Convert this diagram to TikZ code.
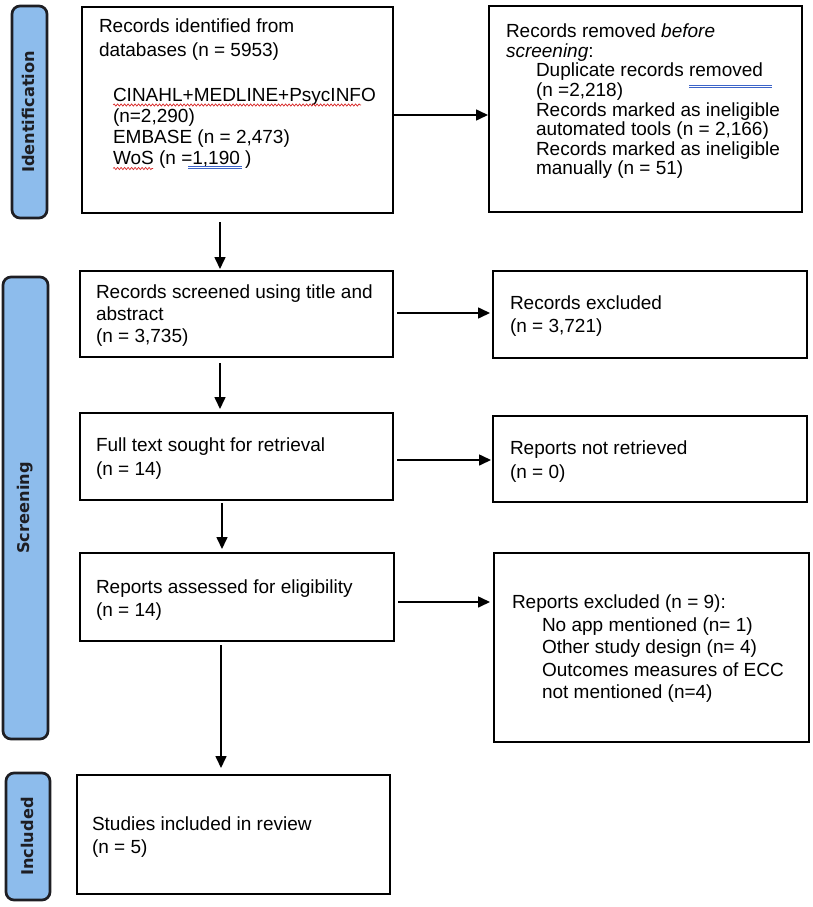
\documentclass[tikz,border=0pt]{standalone}
\usepackage{fontspec}
\setmainfont{Liberation Sans}
\newfontfamily\sidefont{DejaVu Sans}
\usetikzlibrary{arrows.meta,calc,decorations.pathmorphing}
\definecolor{sidefill}{RGB}{141,188,236}
\definecolor{sideline}{RGB}{30,30,35}
\definecolor{spellred}{RGB}{215,35,35}
\definecolor{gramblue}{RGB}{60,100,200}
\begin{document}
\begin{tikzpicture}[x=1pt,y=-1pt,
  box/.style={draw=black, line width=2pt, anchor=north west, inner sep=0pt, outer sep=0pt},
  side/.style={draw=sideline, fill=sidefill, line width=2.7pt, rounded corners=8pt, anchor=north west, inner sep=0pt, outer sep=0pt},
  sidelabel/.style={rotate=90, inner sep=0pt, font=\sidefont\bfseries\fontsize{16.2}{18}\selectfont, text=sideline},
  txt/.style={anchor=north west, inner sep=0pt, outer sep=0pt, align=left, font=\fontsize{19}{#1}\selectfont},
  arr/.style={line width=1.6pt, -{Triangle[length=12pt,width=11pt]}},
  wavy/.style={draw=spellred, line width=0.7pt, decorate, decoration={snake, amplitude=1.1pt, segment length=3.5pt}},
  dbl/.style={draw=gramblue, line width=0.6pt},
]
\useasboundingbox (0,0) rectangle (813,907);

% phase side bars
\node[side, minimum width=35pt, minimum height=212pt] (s1) at (12,6) {};
\node[sidelabel] (l1) at ($(s1.center)+(-1.5,0)$) {Identification};
\node[side, minimum width=45pt, minimum height=462pt] (s2) at (3,277) {};
\node[sidelabel] (l2) at (s2.center) {Screening};
\node[side, minimum width=44pt, minimum height=127pt] (s3) at (6,773) {};
\node[sidelabel] (l3) at ($(s3.center)+(-0.5,0)$) {Included};

% boxes
\node[box, minimum width=311pt, minimum height=206pt] (b1) at (82,7) {};
\node[box, minimum width=313pt, minimum height=206pt] (b2) at (489,6) {};
\node[box, minimum width=313pt, minimum height=86pt] (b3) at (80,271) {};
\node[box, minimum width=314pt, minimum height=87pt] (b4) at (493,271) {};
\node[box, minimum width=313pt, minimum height=87pt] (b5) at (80,413) {};
\node[box, minimum width=314pt, minimum height=86pt] (b6) at (493,416) {};
\node[box, minimum width=314pt, minimum height=88pt] (b7) at (80,553) {};
\node[box, minimum width=315pt, minimum height=189pt] (b8) at (494,553) {};
\node[box, minimum width=313pt, minimum height=119pt] (b9) at (77,775) {};

% texts
\node[txt=24] (t1) at (99,19) {Records identified from\\databases (n = 5953)};
\node[txt=21] (t1b) at (113,88.5) {CINAHL+MEDLINE+PsycINFO\\(n=2,290)\\EMBASE (n = 2,473)\\WoS (n =1,190 )};
\node[txt=19.6] (t2) at (506,24) {Records removed \textit{before}\\\textit{screening}:\\
\hspace*{30pt}Duplicate records removed\\
\hspace*{30pt}(n =2,218)\\
\hspace*{30pt}Records marked as ineligible\\
\hspace*{30pt}automated tools (n = 2,166)\\
\hspace*{30pt}Records marked as ineligible\\
\hspace*{30pt}manually (n = 51)};
\node[txt=22] (t3) at (96,285) {Records screened using title and\\abstract\\(n = 3,735)};
\node[txt=23] (t4) at (510,296) {Records excluded\\(n = 3,721)};
\node[txt=24] (t5) at (96,438) {Full text sought for retrieval\\(n = 14)};
\node[txt=24] (t6) at (510,441) {Reports not retrieved\\(n = 0)};
\node[txt=23] (t7) at (96,580) {Reports assessed for eligibility\\(n = 14)};
\node[txt=22.5] (t8) at (512,595) {Reports excluded (n = 9):\\
\hspace*{30pt}No app mentioned (n= 1)\\
\hspace*{30pt}Other study design (n= 4)\\
\hspace*{30pt}Outcomes measures of ECC\\
\hspace*{30pt}not mentioned (n=4)};
\node[txt=23] (t9) at (92,817) {Studies included in review\\(n = 5)};

% proofing marks as printed
\draw[wavy] (113,105) -- (361,105);
\draw[wavy] (113,168.5) -- (153,168.5);
\draw[dbl] (188,166) -- (242,166) (188,168.3) -- (242,168.3);
\draw[dbl] (689,85) -- (772,85) (689,87.5) -- (772,87.5);

% connectors
\coordinate (ax1) at (220,0);
\coordinate (ax2) at (222,0);
\coordinate (ax3) at (221,0);
\draw[arr, shorten >=2pt] ($(b1.south -| ax1)+(0,9)$) -- (b3.north -| ax1);
\draw[arr, shorten >=4pt] ($(b3.south -| ax1)+(0,6)$) -- (b5.north -| ax1);
\draw[arr, shorten >=4pt] ($(b5.south -| ax2)+(0,3)$) -- (b7.north -| ax2);
\draw[arr, shorten >=7pt] ($(b7.south -| ax3)+(0,4)$) -- (b9.north -| ax3);

\draw[arr, shorten >=1pt] ($(b1.east)+(0,5)$) -- ($(b1.east -| b2.west)+(0,5)$);
\draw[arr, shorten <=4pt, shorten >=3pt] ($(b3.east)+(0,-1)$) -- ($(b3.east -| b4.west)+(0,-1)$);
\draw[arr, shorten <=4pt, shorten >=2pt] ($(b5.east)+(0,3.5)$) -- ($(b5.east -| b6.west)+(0,3.5)$);
\draw[arr, shorten <=4pt, shorten >=4pt] ($(b7.east)+(0,5)$) -- ($(b7.east -| b8.west)+(0,5)$);
\end{tikzpicture}
\end{document}
